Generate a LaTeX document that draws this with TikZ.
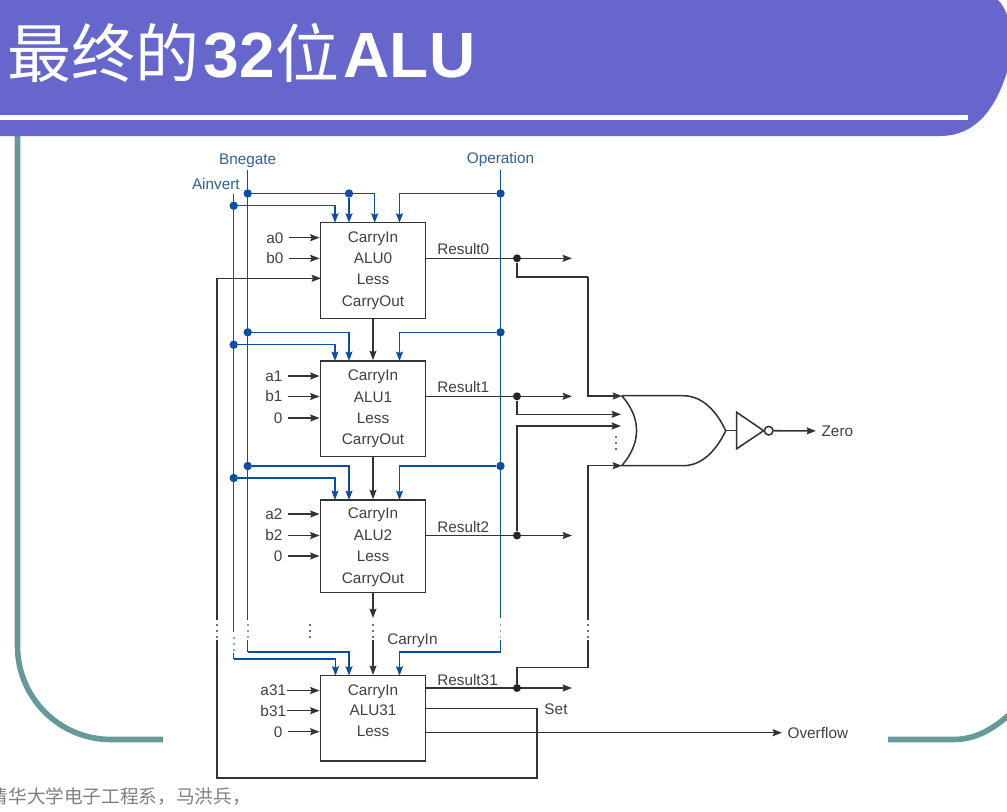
\documentclass[tikz,border=0pt]{standalone}
\usepackage{fontspec}
\setmainfont{Liberation Sans}
\newfontfamily\cjk{Noto Sans CJK SC}
\usetikzlibrary{arrows.meta}
\definecolor{headbar}{HTML}{6666CC}
\definecolor{teal}{HTML}{669999}
\definecolor{ctlblue}{HTML}{0B4EA2}
\definecolor{wirecol}{HTML}{333333}
\definecolor{labblue}{HTML}{2F5F9F}
\tikzset{
  wire/.style={line width=1.15pt,wirecol},
  sig/.style={wire,-{Stealth[length=7pt,width=5.2pt,inset=1pt]}},
  ctl/.style={line width=1.15pt,ctlblue},
  ctlarrow/.style={ctl,-{Stealth[length=7pt,width=5.2pt,inset=1pt]}},
  bdot/.style={circle,fill=ctlblue,inner sep=0,minimum size=6.3pt},
  kdot/.style={circle,fill=black!85,inner sep=0,minimum size=6pt},
  alubox/.style={draw=wirecol,line width=1.15pt,minimum width=79pt,inner sep=0},
  lab/.style={font=\fontsize{11.5}{13}\selectfont,text=black!75,inner sep=0,text height=8.2pt,text depth=0pt},
  pin/.style={lab,inner sep=4pt},
  vdots/.style={line width=1.3pt,dash pattern=on 1.5pt off 3pt},
}
\begin{document}
\begin{tikzpicture}[x=0.75pt,y=-0.75pt]
  \useasboundingbox (0,0) rectangle (1007,811);

  % Slide frame
  \draw[teal,line width=4.2pt] (17.5,130) -- (17.5,646) arc (180:90:93.5) -- (163,739.5);
  \draw[teal,line width=4.2pt] (888,739.5) -- (953,739.5) .. controls (975,739.5) and (992,730) .. (1010,714);
  \fill[headbar] (0,0) -- (998,0) .. controls (1002,4) and (1005,9) .. (1007,15) -- (1007,72)
    .. controls (995,110) and (975,136) .. (940,136) -- (0,136) -- cycle;
  \fill[white] (0,115) rectangle (968,120);
  \node[anchor=base west,inner sep=0,text=white,font=\fontsize{48}{50}\selectfont] (title) at (7,77)
    {\cjk 最终的\kern3.5pt{\rmfamily\bfseries 32}位\kern3.5pt{\rmfamily\bfseries ALU}};
  \node[anchor=base west,inner sep=0,text=black!50,font=\fontsize{14}{16}\selectfont] (footer) at (-10.6,803)
    {\cjk 清华大学电子工程系，马洪兵，};

  % ALU boxes
  \node[alubox,minimum height=71.7pt] (alu0) at (373,270.5) {};
  \node[alubox,minimum height=71.7pt] (alu1) at (373,408.7) {};
  \node[alubox,minimum height=69.5pt] (alu2) at (373,546.3) {};
  \node[alubox,minimum height=63.8pt] (alu31) at (373,718.2) {};

  % Box texts
  \node[lab] (ci0) at (373,237) {CarryIn};
  \node[lab] (name0) at (373,258) {ALU0};
  \node[lab] (less0) at (373,279) {Less};
  \node[lab] (co0) at (373,301) {CarryOut};
  \node[lab] (ci1) at (373,375.5) {CarryIn};
  \node[lab] (name1) at (373,397) {ALU1};
  \node[lab] (less1) at (373,418.5) {Less};
  \node[lab] (co1) at (373,439) {CarryOut};
  \node[lab] (ci2) at (373,513) {CarryIn};
  \node[lab] (name2) at (373,535) {ALU2};
  \node[lab] (less2) at (373,556) {Less};
  \node[lab] (co2) at (373,578) {CarryOut};
  \node[lab] (ci31) at (373,690) {CarryIn};
  \node[lab] (name31) at (373,710.5) {ALU31};
  \node[lab] (less31) at (373,731.5) {Less};

  % Control labels
  \node[pin,text=labblue] (bnegate) at (247.7,159) {Bnegate};
  \node[pin,text=labblue] (operation) at (500.5,158.5) {Operation};
  \node[lab,text=labblue,anchor=east] (ainvert) at (240,184) {Ainvert};

  % Bus ends and the gaps in them
  \coordinate (ainvtop) at (233.7,194);
  \coordinate (ainvA) at (233.7,632);
  \coordinate (ainvB) at (233.7,653);
  \coordinate (bnegA) at (247.7,620);
  \coordinate (bnegB) at (247.7,640);
  \coordinate (opA) at (500.5,618);
  \coordinate (opB) at (500.5,640);

  % Junctions on the buses
  \node[bdot] (bj0) at (247.7,193.5) {};
  \node[bdot] (bm0) at (349,193.5) {};
  \node[bdot] (aj0) at (233.7,205.7) {};
  \node[bdot] (oj0) at (500.5,193.5) {};
  \node[bdot] (bj1) at (247.7,332.3) {};
  \node[bdot] (aj1) at (233.7,344.7) {};
  \node[bdot] (oj1) at (500.5,332.3) {};
  \node[bdot] (bj2) at (247.7,466) {};
  \node[bdot] (aj2) at (233.7,478) {};
  \node[bdot] (oj2) at (500.5,466) {};
  \coordinate (bj31) at (247.7,652);
  \coordinate (aj31) at (233.7,659);
  \coordinate (oj31) at (500.5,652);

  % Control inputs on the box tops
  \coordinate (a0in) at (335,222.7);
  \coordinate (b0in) at (349,222.7);
  \coordinate (c0in) at (374.7,222.7);
  \coordinate (o0in) at (399.5,222.7);
  \coordinate (a1in) at (335,361);
  \coordinate (b1in) at (349,361);
  \coordinate (o1in) at (399.5,361);
  \coordinate (a2in) at (335,500);
  \coordinate (b2in) at (349,500);
  \coordinate (o2in) at (399.5,500);
  \coordinate (a31in) at (335.5,675.7);
  \coordinate (b31in) at (349,675.7);
  \coordinate (o31in) at (399.5,675.7);

  % Blue buses
  \draw[ctl] (ainvtop) -- (ainvA);
  \draw[ctl] (ainvB) -- (aj31);
  \draw[ctl] (bnegate) -- (bnegA);
  \draw[ctl] (bnegB) -- (bj31);
  \draw[ctl] (operation) -- (opA);
  \draw[ctl] (opB) -- (oj31);

  % Blue taps
  \draw[ctl] (bj0) -- (bm0);
  \draw[ctlarrow] (bm0) -| (c0in);
  \draw[ctlarrow] (bm0) -- (b0in);
  \draw[ctlarrow] (aj0) -| (a0in);
  \draw[ctlarrow] (oj0) -| (o0in);
  \draw[ctlarrow] (bj1) -| (b1in);
  \draw[ctlarrow] (aj1) -| (a1in);
  \draw[ctlarrow] (oj1) -| (o1in);
  \draw[ctlarrow] (bj2) -| (b2in);
  \draw[ctlarrow] (aj2) -| (a2in);
  \draw[ctlarrow] (oj2) -| (o2in);
  \draw[ctlarrow] (bj31) -| (b31in);
  \draw[ctlarrow] (aj31) -| (a31in);
  \draw[ctlarrow] (oj31) -| (o31in);

  % Inputs a, b and 0
  \node[pin,anchor=east] (a0) at (289,237.7) {a0};
  \node[pin,anchor=east] (b0) at (289,258.3) {b0};
  \node[pin,anchor=east] (a1) at (288,376) {a1};
  \node[pin,anchor=east] (b1) at (288,396.5) {b1};
  \node[pin,anchor=east] (zero1) at (288,418) {0};
  \node[pin,anchor=east] (a2) at (288,514) {a2};
  \node[pin,anchor=east] (b2) at (288,535.5) {b2};
  \node[pin,anchor=east] (zero2) at (288,556) {0};
  \node[lab,anchor=east,inner sep=0.5pt] (a31) at (287,690.5) {a31};
  \node[lab,anchor=east,inner sep=0.5pt] (b31) at (287,710.7) {b31};
  \node[pin,anchor=east] (zero31) at (288,731.7) {0};
  \draw[sig] (a0) -- (a0 -| alu0.west);
  \draw[sig] (b0) -- (b0 -| alu0.west);
  \draw[sig] (a1) -- (a1 -| alu1.west);
  \draw[sig] (b1) -- (b1 -| alu1.west);
  \draw[sig] (zero1) -- (zero1 -| alu1.west);
  \draw[sig] (a2) -- (a2 -| alu2.west);
  \draw[sig] (b2) -- (b2 -| alu2.west);
  \draw[sig] (zero2) -- (zero2 -| alu2.west);
  \draw[sig] (a31) -- (a31 -| alu31.west);
  \draw[sig] (b31) -- (b31 -| alu31.west);
  \draw[sig] (zero31) -- (zero31 -| alu31.west);

  % Carry chain
  \draw[sig] (alu0.south) -- (alu1.north);
  \draw[sig] (alu1.south) -- (alu2.north);
  \coordinate (carryA) at (373,618);
  \coordinate (carryB) at (373,640);
  \draw[sig] (alu2.south) -- (carryA);
  \draw[sig] (carryB) -- (alu31.north);
  \node[lab,anchor=west] (carryin) at (387,639) {CarryIn};

  % Set line back to Less of ALU0
  \coordinate (setout) at (425.7,708.3);
  \coordinate (setR) at (537,708.3);
  \coordinate (setB) at (537,778);
  \coordinate (setL) at (217,778);
  \coordinate (setA) at (217,640);
  \coordinate (lessB) at (217,620);
  \coordinate (lessT) at (217,278.3);
  \coordinate (less0in) at (321,278.3);
  \draw[wire] (setout) -- (setR) -- (setB) -- (setL) -- (setA);
  \draw[sig] (lessB) -- (lessT) -- (less0in);
  \node[lab] (set) at (556,709) {Set};

  % Overflow
  \coordinate (ovfout) at (425.7,732.7);
  \node[pin,anchor=west] (overflow) at (782,732.7) {Overflow};
  \draw[sig] (ovfout) -- (overflow);

  % Results
  \coordinate (res0) at (425.7,258.3);
  \coordinate (res1) at (425.7,396.3);
  \coordinate (res2) at (425.7,535.5);
  \coordinate (res31) at (425.7,688);
  \coordinate (res0e) at (572,258.3);
  \coordinate (res1e) at (572,396.3);
  \coordinate (res2e) at (572,535.5);
  \coordinate (res31e) at (572,688);
  \draw[sig] (res0) -- (res0e);
  \draw[sig] (res1) -- (res1e);
  \draw[sig] (res2) -- (res2e);
  \draw[sig] (res31) -- (res31e);
  \node[lab,anchor=west] (r0) at (437,249.5) {Result0};
  \node[lab,anchor=west] (r1) at (437,387.5) {Result1};
  \node[lab,anchor=west] (r2) at (437,527) {Result2};
  \node[lab,anchor=west] (r31) at (437,680) {Result31};
  \node[kdot] (j0) at (517,258.3) {};
  \node[kdot] (j1) at (517,396.3) {};
  \node[kdot] (j2) at (517,535.5) {};
  \node[kdot] (j31) at (517,688) {};

  % Lines into the OR gate
  \coordinate (or1) at (622,396);
  \coordinate (or2) at (621,414.3);
  \coordinate (or3) at (621,426);
  \coordinate (or4) at (622,465.7);
  \coordinate (c0) at (588,277);
  \coordinate (c31) at (588,667.7);
  \coordinate (c31A) at (588,620);
  \coordinate (c31B) at (588,640);
  \draw[wire] (j0) |- (c0);
  \draw[sig] (c0) |- (or1);
  \draw[sig] (j1) |- (or2);
  \draw[sig] (j2) |- (or3);
  \draw[wire] (j31) |- (c31) -- (c31B);
  \draw[sig] (c31A) |- (or4);

  % OR gate
  \coordinate (ortop) at (621.7,395.7);
  \coordinate (orbot) at (621.7,465.7);
  \coordinate (ortip) at (725.7,430.7);
  \draw[wire,line join=round] (ortop) -- (683,395.7) .. controls (703,395.7) and (717,412) .. (ortip)
    .. controls (717,449) and (703,465.7) .. (683,465.7) -- (orbot)
    .. controls (641.5,443) and (641.5,418) .. (ortop);

  % Inverter and Zero
  \coordinate (inv1) at (736.7,412.3);
  \coordinate (inv2) at (736.7,448.7);
  \coordinate (invin) at (736.7,430.7);
  \node[circle,draw=wirecol,line width=1.15pt,inner sep=0,minimum size=6.5pt] (bubble) at (768.7,430.7) {};
  \draw[wire,line join=miter] (inv1) -- (bubble.west) -- (inv2) -- cycle;
  \draw[wire] (ortip) -- (invin);
  \node[pin,anchor=west] (zero) at (816,431) {Zero};
  \draw[sig] (bubble) -- (zero);

  % Dots in the gaps
  \draw[vdots,wirecol!70] (217,624) -- (217,639);
  \draw[vdots,ctlblue!50] (233.7,637) -- (233.7,652);
  \draw[vdots,ctlblue!50] (247.7,624) -- (247.7,639);
  \draw[vdots,wirecol!70] (310,624) -- (310,639);
  \draw[vdots,wirecol!70] (373,624) -- (373,639);
  \draw[vdots,ctlblue!50] (500.5,624) -- (500.5,639);
  \draw[vdots,wirecol!70] (588,624) -- (588,639);
  \draw[vdots,wirecol!70] (615.7,436) -- (615.7,451);
\end{tikzpicture}
\end{document}
